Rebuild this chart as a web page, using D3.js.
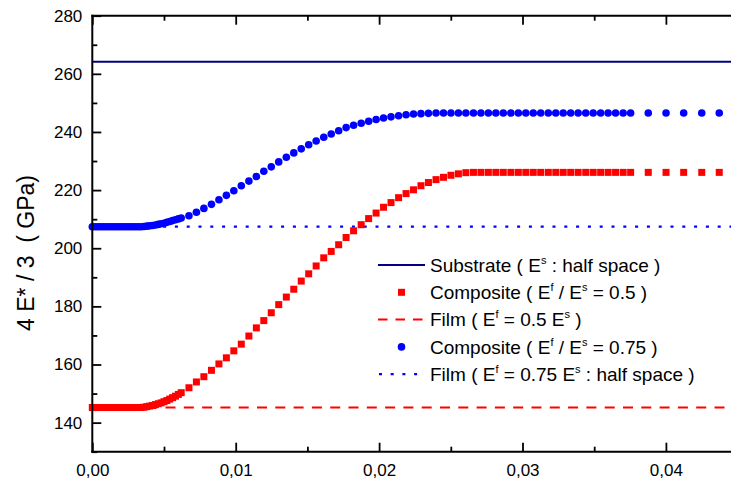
<!DOCTYPE html>
<html><head><meta charset="utf-8">
<script src="https://cdn.jsdelivr.net/npm/d3@7"></script>
<style>
body{margin:0;background:#fff}
svg{display:block}
text{font-family:Arial,"Liberation Sans",Helvetica,sans-serif;fill:#000}
</style>
</head><body><svg id="c" width="731" height="479"></svg>
<script>
// ---------- data ----------
const xDense = [0,0.0002,0.0004,0.0006,0.0008,0.001,0.0012,0.0014,0.0016,0.0018,0.002,0.0022,0.0024,0.0026,0.0028,0.003,0.0032,0.0034,0.0036,0.0038,0.004,0.0042,0.0044,0.0046,0.0048,0.005,0.0052,0.0054,0.0056,0.0058,0.006,0.0062];
const xMain = [0.00674,0.00726,0.00778,0.00831,0.00883,0.00935,0.00987,0.01039,0.01092,0.01144,0.01196,0.01248,0.01300,0.01353,0.01405,0.01457,0.01509,0.01561,0.01614,0.01666,0.01718,0.01770,0.01822,0.01875,0.01927,0.01979,0.02031,0.02083,0.02136,0.02188,0.02240,0.02292,0.02344,0.02397,0.02449,0.02501,0.02553,0.02605,0.02658,0.02710,0.02762,0.02814,0.02866,0.02919,0.02971,0.03023,0.03075,0.03127,0.03180,0.03232,0.03284,0.03336,0.03388,0.03441,0.03493,0.03545,0.03597,0.03649,0.03702,0.03754];
const xTail = [0.03877,0.04001,0.04124,0.04250,0.04372];

const comp05Dense = [145.2,145.2,145.2,145.2,145.2,145.2,145.2,145.2,145.2,145.2,145.2,145.2,145.2,145.2,145.2,145.2,145.2,145.2,145.3,145.5,145.7,145.9,146.2,146.5,146.8,147.2,147.6,148.1,148.6,149.1,149.7,150.3];
const comp05Main = [152.0,154.0,155.8,158.0,160.2,162.3,164.7,167.0,169.8,172.6,175.1,177.8,180.6,183.2,185.9,188.7,191.2,193.9,196.7,198.9,201.2,203.7,206.0,208.1,210.2,212.1,214.1,215.7,217.4,218.8,220.1,221.5,222.6,223.6,224.4,225.1,225.6,226.0,226.1,226.1,226.1,226.1,226.1,226.1,226.1,226.1,226.1,226.1,226.1,226.1,226.1,226.1,226.1,226.1,226.1,226.1,226.1,226.1,226.1,226.1];
const comp05Tail = [226.1,226.1,226.1,226.1,226.1];

const comp075Dense = [207.4,207.4,207.4,207.4,207.4,207.4,207.4,207.4,207.4,207.4,207.4,207.4,207.4,207.4,207.4,207.4,207.4,207.4,207.5,207.6,207.7,207.8,208.0,208.2,208.4,208.6,208.9,209.2,209.5,209.8,210.1,210.4];
const comp075Main = [211.2,212.4,213.7,215.1,216.7,218.2,219.8,221.5,223.1,224.7,226.5,228.0,229.7,231.3,232.8,234.2,235.6,236.9,238.2,239.3,240.4,241.5,242.3,243.0,243.7,244.3,244.8,245.2,245.6,245.9,246.2,246.3,246.4,246.5,246.5,246.5,246.5,246.5,246.5,246.5,246.5,246.5,246.5,246.5,246.5,246.5,246.5,246.5,246.5,246.5,246.5,246.5,246.5,246.5,246.5,246.5,246.5,246.5,246.5,246.5];
const comp075Tail = [246.5,246.5,246.5,246.5,246.5];

const substrateValue = 264.2;   // Substrate (E^s : half space)
const film05Value = 145.2;      // Film (E^f = 0.5 E^s)
const film075Value = 207.4;     // Film (E^f = 0.75 E^s : half space)

const xDomain = [0, 0.045];
const yDomain = [130, 280];
const xMajorTicks = [0, 0.01, 0.02, 0.03, 0.04];
const xMinorTicks = [0.005, 0.015, 0.025, 0.035, 0.045];
const yMajorTicks = [140, 160, 180, 200, 220, 240, 260, 280];
const yMinorTicks = [130, 150, 170, 190, 210, 230, 250, 270];
const yTitle = "4 E* / 3  ( GPa)";

const legendItems = [
  {kind:"line", parts:[["Substrate ( E",0],["s",1],[" : half space )",0]]},
  {kind:"square", parts:[["Composite ( E",0],["f",1],[" / E",0],["s",1],[" = 0.5 )",0]]},
  {kind:"dash", parts:[["Film ( E",0],["f",1],[" = 0.5 E",0],["s",1],[" )",0]]},
  {kind:"circle", parts:[["Composite ( E",0],["f",1],[" / E",0],["s",1],[" = 0.75 )",0]]},
  {kind:"dot", parts:[["Film ( E",0],["f",1],[" = 0.75 E",0],["s",1],[" : half space )",0]]}
];

(function draw() {
  const pLeft = 92.3, pTop = 15.7, pBottom = 451.7, pRight = 737.6;
  const NAVY = "#000080", RED = "#FF0000", BLUE = "#0000FF";
  const svg = d3.select("#c");
  const x = d3.scaleLinear().domain(xDomain).range([pLeft, pRight]);
  const y = d3.scaleLinear().domain(yDomain).range([pBottom, pTop]);
  const fmt = v => d3.format(".2f")(v).replace(".", ",");

  const xs = xDense.concat(xMain, xTail);
  const y05 = comp05Dense.concat(comp05Main, comp05Tail);
  const y075 = comp075Dense.concat(comp075Main, comp075Tail);
  const comp05 = xs.map((v, i) => [v, y05[i]]);
  const comp075 = xs.map((v, i) => [v, y075[i]]);

  function hline(val, color, dash, w) {
    svg.append("line").attr("x1", x(xDomain[0])).attr("x2", x(xDomain[1]))
      .attr("y1", y(val)).attr("y2", y(val))
      .attr("stroke", color).attr("stroke-width", w)
      .attr("stroke-dasharray", dash);
  }
  hline(substrateValue, NAVY, null, 2);
  hline(film05Value, RED, "10,8.3", 2);
  hline(film075Value, BLUE, "3,8.8", 2.2);

  const ms = 7;
  svg.append("g").selectAll("rect").data(comp05).join("rect")
    .attr("x", d => x(d[0]) - ms / 2).attr("y", d => y(d[1]) - ms / 2)
    .attr("width", ms).attr("height", ms).attr("fill", RED);
  svg.append("g").selectAll("circle").data(comp075).join("circle")
    .attr("cx", d => x(d[0])).attr("cy", d => y(d[1])).attr("r", 3.8).attr("fill", BLUE);

  function styleAxis(g) {
    g.select(".domain").remove();
    g.selectAll(".tick line").attr("stroke", "#000").attr("stroke-width", 1.8);
    g.selectAll("text").attr("font-size", 17).attr("fill", "#000")
      .style("font-family", "Arial, 'Liberation Sans', sans-serif");
  }
  svg.append("g").attr("transform", `translate(0,${pBottom})`)
    .call(d3.axisBottom(x).tickValues(xMajorTicks).tickSize(-9).tickPadding(12).tickFormat(fmt)).call(styleAxis);
  svg.append("g").attr("transform", `translate(0,${pBottom})`)
    .call(d3.axisBottom(x).tickValues(xMinorTicks).tickSize(-5).tickFormat("")).call(styleAxis);
  svg.append("g").attr("transform", `translate(0,${pTop})`)
    .call(d3.axisTop(x).tickValues(xMajorTicks).tickSize(-9).tickFormat("")).call(styleAxis);
  svg.append("g").attr("transform", `translate(0,${pTop})`)
    .call(d3.axisTop(x).tickValues(xMinorTicks).tickSize(-5).tickFormat("")).call(styleAxis);
  svg.append("g").attr("transform", `translate(${pLeft},0)`)
    .call(d3.axisLeft(y).tickValues(yMajorTicks).tickSize(-9).tickPadding(10).tickFormat(d3.format("d"))).call(styleAxis);
  svg.append("g").attr("transform", `translate(${pLeft},0)`)
    .call(d3.axisLeft(y).tickValues(yMinorTicks).tickSize(-5).tickFormat("")).call(styleAxis);

  const frame = svg.append("g").attr("stroke", "#000").attr("stroke-width", 2).attr("fill", "none");
  frame.append("line").attr("x1", pLeft).attr("x2", pLeft).attr("y1", pTop - 1).attr("y2", pBottom + 1);
  frame.append("line").attr("x1", pLeft - 1).attr("x2", pRight).attr("y1", pBottom).attr("y2", pBottom);
  frame.append("line").attr("x1", pLeft - 1).attr("x2", pRight).attr("y1", pTop).attr("y2", pTop);

  svg.append("text").attr("transform", `translate(34,253) rotate(-90)`)
    .attr("text-anchor", "middle").attr("font-size", 23).style("white-space", "pre").text(yTitle);

  const lg = svg.append("g");
  const rowY0 = 265, rowH = 27.3, sx1 = 378, sx2 = 425, tx = 430;
  legendItems.forEach((it, i) => {
    const cy = rowY0 + i * rowH;
    if (it.kind === "line") lg.append("line").attr("x1", sx1).attr("x2", sx2).attr("y1", cy).attr("y2", cy).attr("stroke", NAVY).attr("stroke-width", 2);
    if (it.kind === "dash") lg.append("line").attr("x1", sx1).attr("x2", sx2).attr("y1", cy).attr("y2", cy).attr("stroke", RED).attr("stroke-width", 2).attr("stroke-dasharray", "9.5,8");
    if (it.kind === "dot") lg.append("line").attr("x1", sx1 + 1).attr("x2", sx2).attr("y1", cy).attr("y2", cy).attr("stroke", BLUE).attr("stroke-width", 2.2).attr("stroke-dasharray", "3,8.7");
    if (it.kind === "square") lg.append("rect").attr("x", (sx1 + sx2) / 2 - ms / 2).attr("y", cy - ms / 2).attr("width", ms).attr("height", ms).attr("fill", RED);
    if (it.kind === "circle") lg.append("circle").attr("cx", (sx1 + sx2) / 2).attr("cy", cy).attr("r", 3.8).attr("fill", BLUE);
    const t = lg.append("text").attr("x", tx).attr("y", cy + 6.8).attr("font-size", 19).style("white-space", "pre");
    it.parts.forEach((p, j) => {
      const prevSup = j > 0 && it.parts[j - 1][1] === 1;
      const ts = t.append("tspan").text(p[0]);
      if (p[1] === 1) ts.attr("font-size", 11).attr("dy", -8);
      else if (prevSup) ts.attr("dy", 8);
    });
  });
})();
</script>
</body></html>
